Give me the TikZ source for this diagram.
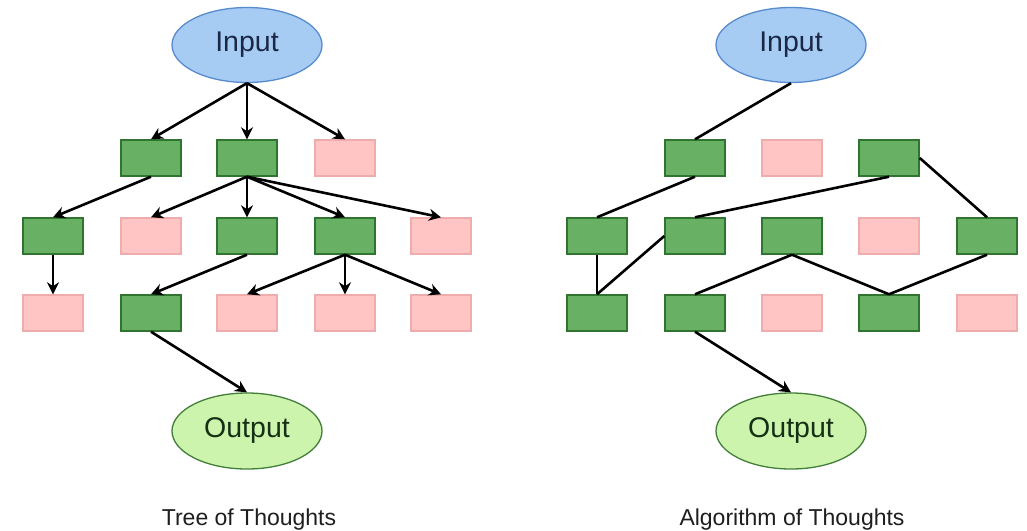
\documentclass[tikz,border=0pt]{standalone}
\usepackage{fontspec}
\setmainfont{Liberation Sans}
\usetikzlibrary{arrows.meta,shapes.geometric}
\definecolor{inblue}{RGB}{166, 204, 244}
\definecolor{inblueline}{RGB}{88, 138, 206}
\definecolor{outgreen}{RGB}{204, 244, 172}
\definecolor{outgreenline}{RGB}{66, 126, 58}
\definecolor{okgreen}{RGB}{104, 176, 100}
\definecolor{okgreenline}{RGB}{48, 116, 48}
\definecolor{badpink}{RGB}{255, 196, 196}
\definecolor{badpinkline}{RGB}{238, 172, 172}

\tikzset{
    inell/.style={ellipse, draw=inblueline, fill=inblue, line width=1.3pt,
        minimum width=150, minimum height=75, inner sep=0pt,
        font=\fontsize{28.5}{32}\selectfont, text={rgb,255:red,26;green,40;blue,70}},
    outell/.style={ellipse, draw=outgreenline, fill=outgreen, line width=1.3pt,
        minimum width=150, minimum height=76, inner sep=0pt,
        font=\fontsize{28.5}{32}\selectfont, text={rgb,255:red,22;green,48;blue,22}},
    good/.style={draw=okgreenline, fill=okgreen, line width=1.4pt,
        minimum width=60, minimum height=36, inner sep=0pt},
    bad/.style={draw=badpinkline, fill=badpink, line width=1.4pt,
        minimum width=60, minimum height=36, inner sep=0pt},
    arr/.style={line width=2.6pt, -{Stealth[length=12pt,width=12pt]}},
    lnk/.style={line width=2.6pt},
    caption/.style={anchor=base, font=\fontsize{23}{27}\selectfont,
        text={rgb,255:red,30;green,30;blue,30}}
}

\begin{document}
\begin{tikzpicture}[x=1pt,y=-1pt]
\useasboundingbox (0,0) rectangle (1027,530);

% Tree of Thoughts
\node[inell] (tin) at (247,45) {Input};

\node[good] (t12) at (151,158) {};
\node[good] (t13) at (247,158) {};
\node[bad]  (t14) at (345,158) {};

\node[good] (t21) at (53,236) {};
\node[bad]  (t22) at (151,236) {};
\node[good] (t23) at (247,236) {};
\node[good] (t24) at (345,236) {};
\node[bad]  (t25) at (441,236) {};

\node[bad]  (t31) at (53,313) {};
\node[good] (t32) at (151,313) {};
\node[bad]  (t33) at (247,313) {};
\node[bad]  (t34) at (345,313) {};
\node[bad]  (t35) at (441,313) {};

\node[outell] (tout) at (247,431) {Output};

\foreach \b in {t12,t13,t14}
    \draw[arr] (tin.south) -- (\b.north);
\draw[arr] (t12.south) -- (t21.north);
\foreach \b in {t22,t23,t24,t25}
    \draw[arr] (t13.south) -- (\b.north);
\draw[arr] (t21.south) -- (t31.north);
\draw[arr] (t23.south) -- (t32.north);
\foreach \b in {t33,t34,t35}
    \draw[arr] (t24.south) -- (\b.north);
\draw[arr] (t32.south) -- (tout.north);

\node[caption] (tcap) at (249,525) {Tree of Thoughts};

% Algorithm of Thoughts
\begin{scope}[shift={(544,0)}]
\node[inell] (ain) at (247,45) {Input};

\node[good] (a12) at (151,158) {};
\node[bad]  (a13) at (248,158) {};
\node[good] (a14) at (345,158) {};

\node[good] (a21) at (53,236) {};
\node[good] (a22) at (151,236) {};
\node[good] (a23) at (248,236) {};
\node[bad]  (a24) at (345,236) {};
\node[good] (a25) at (443,236) {};

\node[good] (a31) at (53,313) {};
\node[good] (a32) at (151,313) {};
\node[bad]  (a33) at (248,313) {};
\node[good] (a34) at (345,313) {};
\node[bad]  (a35) at (443,313) {};

\node[outell] (aout) at (247,431) {Output};

\draw[lnk] (ain.south) -- (a12.north);
\draw[lnk] (a12.south) -- (a21.north);
\draw[lnk] (a14.south) -- (a22.north);
\draw[lnk] (a14.east) -- (a25.north);
\draw[lnk] (a21.south) -- (a31.north);
\draw[lnk] (a31.north) -- (a22.west);
\draw[lnk] (a23.south) -- (a32.north);
\draw[lnk] (a23.south) -- (a34.north);
\draw[lnk] (a25.south) -- (a34.north);
\draw[arr] (a32.south) -- (aout.north);

\node[caption] (acap) at (248,525) {Algorithm of Thoughts};
\end{scope}
\end{tikzpicture}
\end{document}
